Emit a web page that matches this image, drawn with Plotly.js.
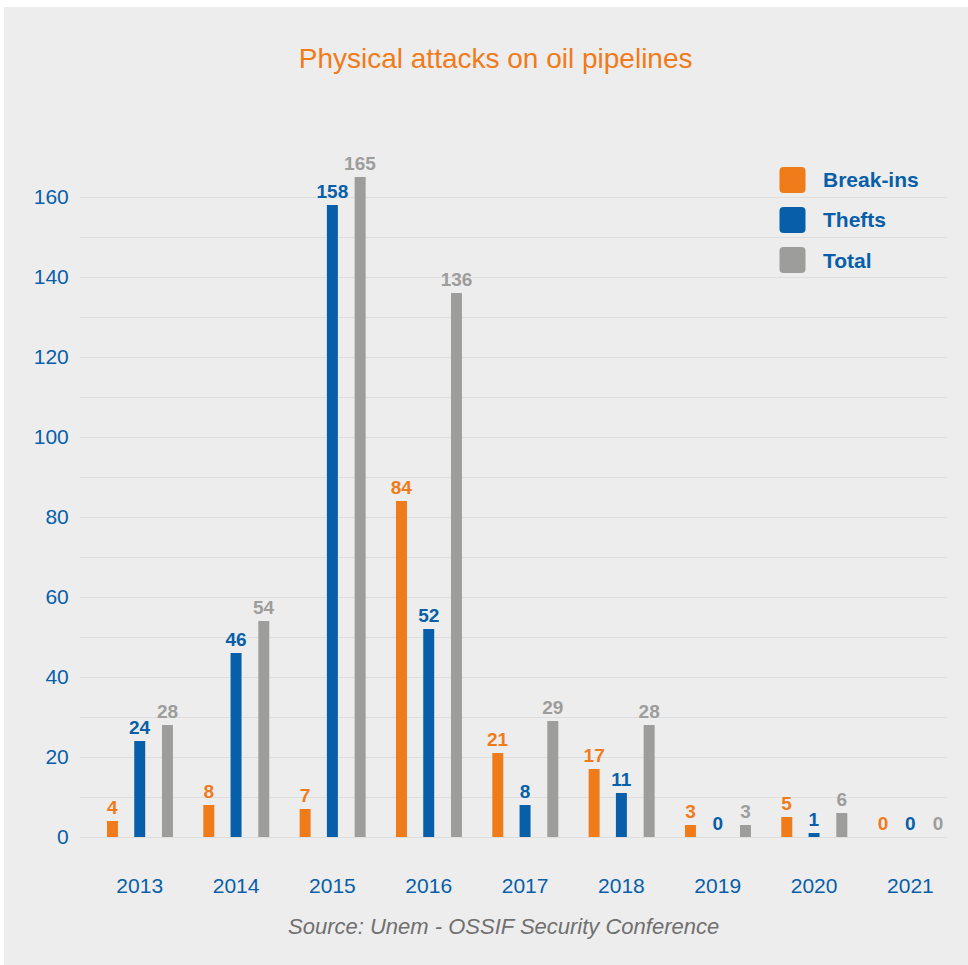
<!DOCTYPE html>
<html>
<head>
<meta charset="utf-8">
<script src="https://cdn.plot.ly/plotly-3.0.1.min.js"></script>
<style>
  html, body { margin: 0; padding: 0; background: #ffffff; }
  #chart { position: absolute; left: 4px; top: 7px; width: 964px; height: 958px; }
</style>
</head>
<body>
<div id="chart"></div>
<script>
const years = ['2013', '2014', '2015', '2016', '2017', '2018', '2019', '2020', '2021'];
const breakIns = [4, 8, 7, 84, 21, 17, 3, 5, 0];
const thefts = [24, 46, 158, 52, 8, 11, 0, 1, 0];
const totals = [28, 54, 165, 136, 29, 28, 3, 6, 0];
const seriesNames = ['Break-ins', 'Thefts', 'Total'];
const yTicks = [0, 20, 40, 60, 80, 100, 120, 140, 160];

const ORANGE = '#f07b1b';
const BLUE = '#075fa9';
const GRAY = '#9d9d9c';
const FONT = '"Liberation Sans", Arial, Helvetica, sans-serif';

const BW = 0.114;
function barTrace(vals, name, color, center) {
  return {
    type: 'bar',
    x: years,
    y: vals,
    name: name,
    width: BW,
    offset: center - BW / 2,
    marker: { color: color },
    text: vals.map(String),
    textposition: 'outside',
    constraintext: 'none',
    cliponaxis: false,
    textfont: { family: FONT, size: 19, color: color, weight: 'bold' },
    hoverinfo: 'x+y+name',
    showlegend: false
  };
}

const data = [
  barTrace(breakIns, seriesNames[0], ORANGE, -0.283),
  barTrace(thefts, seriesNames[1], BLUE, 0),
  barTrace(totals, seriesNames[2], GRAY, 0.288)
];

// legend (custom, larger rounded swatches)
const legColors = [ORANGE, BLUE, GRAY];
const legY = [0.9662, 0.9074, 0.8485];
const swatch = 'M -13 -9 Q -13 -13 -9 -13 L 9 -13 Q 13 -13 13 -9 L 13 9 Q 13 13 9 13 L -9 13 Q -13 13 -13 9 Z';
const shapes = legColors.map((c, i) => ({
  type: 'path',
  xref: 'paper', yref: 'paper',
  xsizemode: 'pixel', ysizemode: 'pixel',
  xanchor: 0.8218, yanchor: legY[i],
  path: swatch,
  fillcolor: c,
  line: { width: 0 }
}));
const annotations = seriesNames.map((n, i) => ({
  xref: 'paper', yref: 'paper',
  x: 0.855, y: legY[i],
  xanchor: 'left', yanchor: 'middle',
  text: n,
  showarrow: false,
  font: { family: FONT, size: 21, color: BLUE, weight: 'bold' }
}));
annotations.push({
  xref: 'paper', yref: 'paper',
  x: 0.489, y: -0.132,
  xanchor: 'center', yanchor: 'middle',
  text: '<i>Source: Unem - OSSIF Security Conference</i>',
  showarrow: false,
  font: { family: FONT, size: 22, color: '#707070' }
});

const layout = {
  width: 964,
  height: 958,
  paper_bgcolor: '#ededed',
  plot_bgcolor: '#ededed',
  margin: { l: 76, r: 21, t: 150, b: 128 },
  barmode: 'group',
  title: {
    text: 'Physical attacks on oil pipelines',
    font: { family: FONT, size: 28, color: ORANGE },
    x: 0.510, xref: 'container', xanchor: 'center',
    y: 0.947, yref: 'container', yanchor: 'middle'
  },
  xaxis: {
    type: 'category',
    range: [-0.62, 8.38],
    showgrid: false,
    zeroline: false,
    showline: false,
    ticks: 'outside', ticklen: 30, tickcolor: 'rgba(0,0,0,0)',
    tickfont: { family: FONT, size: 21, color: BLUE },
    fixedrange: true
  },
  yaxis: {
    range: [0, 170],
    tickvals: yTicks,
    ticktext: yTicks.map(String),
    showgrid: true,
    gridcolor: '#dedede',
    gridwidth: 1,
    minor: { dtick: 10, tick0: 0, showgrid: true, gridcolor: '#dedede', gridwidth: 1 },
    zeroline: true,
    zerolinecolor: '#dedede',
    zerolinewidth: 1,
    showline: false,
    ticks: 'outside', ticklen: 6, tickcolor: 'rgba(0,0,0,0)',
    tickfont: { family: FONT, size: 21, color: BLUE },
    fixedrange: true
  },
  shapes: shapes,
  annotations: annotations,
  showlegend: false
};

Plotly.newPlot('chart', data, layout, { displayModeBar: false, staticPlot: true });
</script>
</body>
</html>
